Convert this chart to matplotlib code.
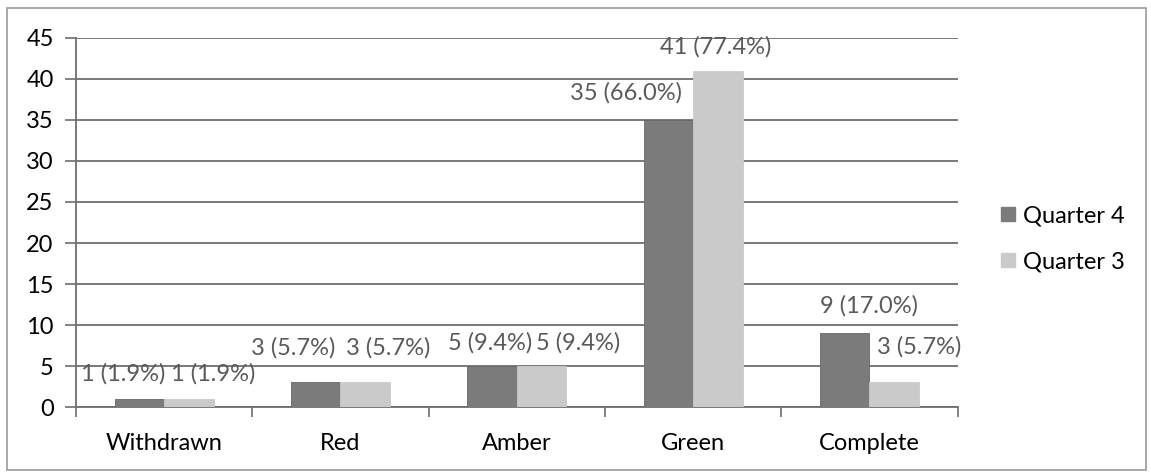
import numpy as np
import matplotlib.pyplot as plt
from matplotlib.patches import Rectangle
from matplotlib.lines import Line2D

plt.rcParams['font.family'] = ['Lato', 'DejaVu Sans']

categories = ['Withdrawn', 'Red', 'Amber', 'Green', 'Complete']
quarter4 = [1, 3, 5, 35, 9]
quarter3 = [1, 3, 5, 41, 3]
total = 53
# label placement (x offset from category centre, height in data units)
q4_label_dx = [-0.23, -0.27, -0.15, -0.38, 0.0]
q4_label_y = [4.0, 7.2, 7.8, 38.3, 12.4]
q3_label_dx = [0.28, 0.27, 0.35, 0.13, 0.28]
q3_label_y = [4.0, 7.2, 7.8, 43.9, 7.3]

c_q4 = '#7b7b7b'
c_q3 = '#cacaca'
grid_c = '#6e6e6e'
label_c = '#5a5a5a'

fig = plt.figure(figsize=(11.51, 4.73), dpi=100)
ax = fig.add_axes([0.066, 0.1395, 0.766, 0.7802])

x = np.arange(len(categories))
w = 0.28
ax.bar(x - w / 2, quarter4, w, color=c_q4, edgecolor='#666666', linewidth=0.6, zorder=3)
ax.bar(x + w / 2, quarter3, w, color=c_q3, edgecolor=c_q3, linewidth=0.6, zorder=3)

for i in range(len(categories)):
    ax.text(x[i] + q4_label_dx[i], q4_label_y[i],
            '{} ({:.1f}%)'.format(quarter4[i], quarter4[i] / total * 100),
            ha='center', va='center', fontsize=17, color=label_c, zorder=4)
    ax.text(x[i] + q3_label_dx[i], q3_label_y[i],
            '{} ({:.1f}%)'.format(quarter3[i], quarter3[i] / total * 100),
            ha='center', va='center', fontsize=17, color=label_c, zorder=4)

ax.set_xlim(-0.5, len(categories) - 0.5)
ax.set_ylim(0, 45)
ax.set_yticks(np.arange(0, 46, 5))
ax.yaxis.grid(True, color=grid_c, linewidth=1.3, zorder=0)
ax.set_axisbelow(True)

ax.set_xticks(x)
ax.set_xticklabels(categories)
ax.set_xticks(np.arange(-0.5, len(categories), 1.0), minor=True)
ax.tick_params(axis='x', which='major', length=0, pad=19, labelsize=17)
ax.tick_params(axis='x', which='minor', length=7, width=1.2, color=grid_c, direction='out')
ax.tick_params(axis='y', length=8, width=1.2, color=grid_c, labelsize=17, pad=8)

for s in ['top', 'right']:
    ax.spines[s].set_visible(False)
ax.spines['left'].set_color(grid_c)
ax.spines['left'].set_linewidth(1.3)
ax.spines['bottom'].set_color(grid_c)
ax.spines['bottom'].set_linewidth(1.3)

handles = [Line2D([], [], marker='s', linestyle='', markersize=10, color=c_q4),
           Line2D([], [], marker='s', linestyle='', markersize=10, color=c_q3)]
fig.legend(handles, ['Quarter 4', 'Quarter 3'], loc='center left',
           bbox_to_anchor=(0.848, 0.495), frameon=False, fontsize=17,
           handletextpad=0.2, labelspacing=1.05, handlelength=0.9)

# outer frame of the chart
fig.patches.append(Rectangle((0.006, 0.006), 0.99, 0.977, transform=fig.transFigure,
                             fill=False, edgecolor='#9a9a9a', linewidth=1.2))

fig.savefig('out.png', dpi=100, facecolor='white')
